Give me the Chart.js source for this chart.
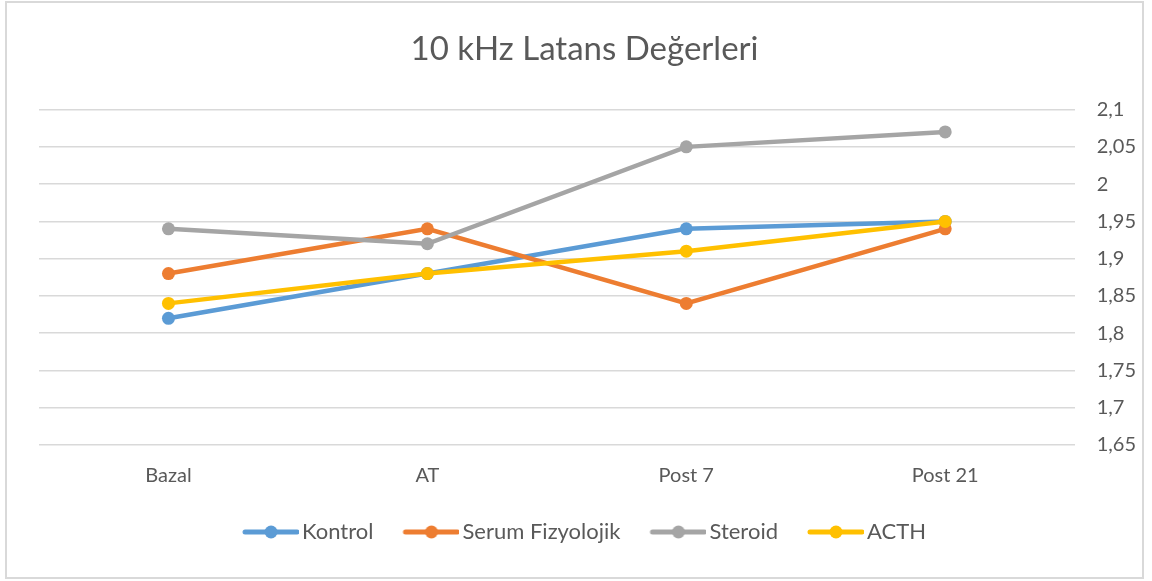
<!DOCTYPE html>
<html>
<head>
<meta charset="utf-8">
<script src="https://cdn.jsdelivr.net/npm/chart.js@4.4.1/dist/chart.umd.min.js"></script>
<style>
  html, body { margin: 0; padding: 0; background: #fff; }
  #wrap { width: 1152px; height: 581px; position: relative; }
</style>
</head>
<body>
<div id="wrap"><canvas id="chart" width="1152" height="581"></canvas></div>
<script>
// Data
const categories = ['Bazal', 'AT', 'Post 7', 'Post 21'];
const kontrol = [1.82, 1.88, 1.94, 1.95];
const serumFizyolojik = [1.88, 1.94, 1.84, 1.94];
const steroid = [1.94, 1.92, 2.05, 2.07];
const acth = [1.84, 1.88, 1.91, 1.95];

const seriesNames = ['Kontrol', 'Serum Fizyolojik', 'Steroid', 'ACTH'];
const seriesColors = ['#5B9BD5', '#ED7D31', '#A5A5A5', '#FFC000'];
const seriesValues = [kontrol, serumFizyolojik, steroid, acth];

const FONT = 'Lato, "Open Sans", sans-serif';

// Legend marker: short line with a dot in the middle.
// Blank space on the left widens the gap between legend items.
function legendMarker(color) {
    const c = document.createElement('canvas');
    c.width = 72;
    c.height = 16;
    const ctx = c.getContext('2d');
    ctx.strokeStyle = color;
    ctx.lineWidth = 5;
    ctx.lineCap = 'round';
    ctx.beginPath();
    ctx.moveTo(18, 8);
    ctx.lineTo(70, 8);
    ctx.stroke();
    ctx.fillStyle = color;
    ctx.beginPath();
    ctx.arc(44, 8, 6.5, 0, Math.PI * 2);
    ctx.fill();
    return c;
}

// Light gray frame around the whole chart
const framePlugin = {
    id: 'frame',
    beforeDraw(chart) {
        const ctx = chart.ctx;
        ctx.save();
        ctx.strokeStyle = '#d9d9d9';
        ctx.lineWidth = 2;
        ctx.strokeRect(6, 2, 1137, 576);
        ctx.restore();
    }
};

// Title and legend are centred on the whole frame, not on the padded area
const recenterPlugin = {
    id: 'recenter',
    afterLayout(chart) {
        const shift = (box, dx) => {
            if (!box) return;
            box.left += dx;
            box.right += dx;
        };
        shift(chart.titleBlock, -14);
        shift(chart.legend, -18);
    }
};

const datasets = seriesNames.map((name, i) => ({
    label: name,
    data: seriesValues[i],
    borderColor: seriesColors[i],
    backgroundColor: seriesColors[i],
    borderWidth: 4.5,
    pointRadius: 6.5,
    pointHoverRadius: 6.5,
    pointBorderWidth: 0,
    tension: 0,
    order: seriesNames.length - i,   // later series drawn on top, like the original
    markerImg: legendMarker(seriesColors[i])
}));

new Chart(document.getElementById('chart'), {
    type: 'line',
    data: { labels: categories, datasets: datasets },
    options: {
        responsive: false,
        animation: false,
        layout: { padding: { left: 39, right: -6, top: 0, bottom: 28 } },
        plugins: {
            title: {
                display: true,
                text: '10 kHz Latans Değerleri',
                color: '#595959',
                font: { family: FONT, size: 33, weight: 'normal' },
                padding: { top: 30, bottom: 40 }
            },
            legend: {
                position: 'bottom',
                labels: {
                    usePointStyle: true,
                    pointStyleWidth: 56,
                    padding: 22,
                    color: '#595959',
                    font: { family: FONT, size: 22 },
                    sort: (a, b) => a.datasetIndex - b.datasetIndex,
                    generateLabels(chart) {
                        return chart.data.datasets.map((ds, i) => ({
                            text: ds.label,
                            fillStyle: ds.borderColor,
                            strokeStyle: ds.borderColor,
                            lineWidth: 0,
                            pointStyle: ds.markerImg,
                            datasetIndex: i,
                            hidden: false,
                            fontColor: '#595959'
                        }));
                    }
                }
            },
            tooltip: { enabled: false }
        },
        scales: {
            x: {
                offset: true,
                grid: { display: false },
                border: { display: false },
                ticks: {
                    color: '#595959',
                    font: { family: FONT, size: 20 },
                    padding: 11
                }
            },
            y: {
                position: 'right',
                min: 1.65,
                max: 2.1,
                grid: { color: '#d9d9d9', lineWidth: 1.5, drawTicks: false },
                border: { display: false },
                ticks: {
                    stepSize: 0.05,
                    color: '#595959',
                    font: { family: FONT, size: 20 },
                    padding: 22,
                    callback: v => String(Math.round(v * 100) / 100).replace('.', ',')
                }
            }
        }
    },
    plugins: [framePlugin, recenterPlugin]
});
</script>
</body>
</html>
